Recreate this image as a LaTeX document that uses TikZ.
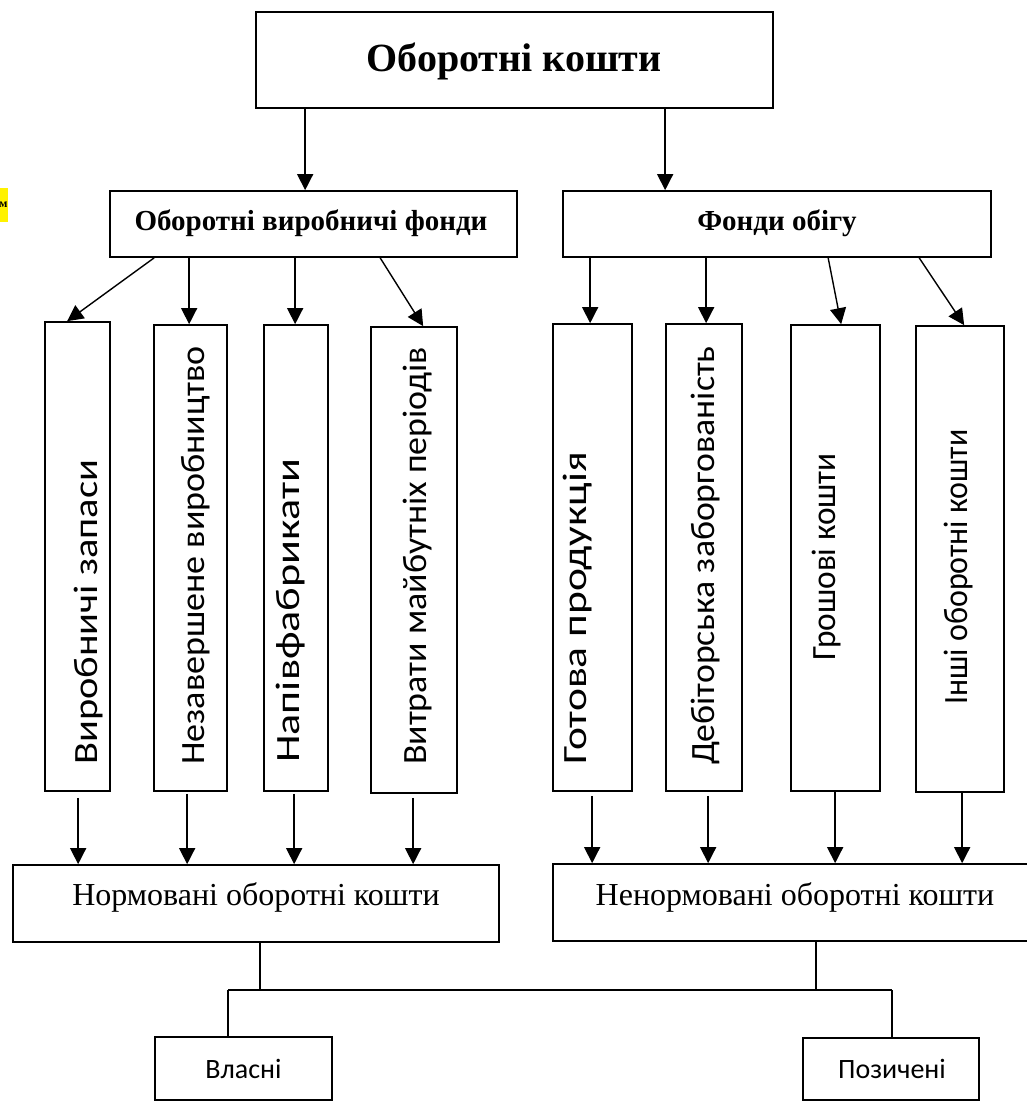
\documentclass[tikz,border=0pt]{standalone}
\usepackage{fontspec}
\usepackage{graphicx}
\setmainfont{Liberation Serif}
\newfontfamily\carl{Carlito}
\usetikzlibrary{arrows.meta}
\newcommand{\strt}[2]{\scalebox{#1}[1]{#2}}
\begin{document}
\begin{tikzpicture}[x=1pt,y=-1pt,
  box/.style={draw, line width=1.7pt, rectangle, inner sep=0pt},
  arr/.style={line width=1.4pt, -{Triangle[length=16pt,width=16pt]}},
  ln/.style={line width=1.5pt},
  ttl/.style={font=\fontsize{40}{48}\selectfont\bfseries, anchor=base, inner sep=0pt},
  sub/.style={font=\fontsize{29}{34}\selectfont\bfseries, anchor=base, inner sep=0pt},
  reg/.style={font=\fontsize{32}{38}\selectfont, anchor=base, inner sep=0pt},
  sml/.style={font=\fontsize{28}{34}\carl, anchor=base, inner sep=0pt},
  vtext/.style={font=\fontsize{34}{40}\carl, rotate=90, inner sep=0pt}
]
\useasboundingbox (0,0) rectangle (1027,1102);
\fill[white] (0,0) rectangle (1027,1102);

% yellow fragment
\node[fill=yellow, anchor=east, inner xsep=0.3pt, minimum height=34pt,
      font=\fontsize{12}{14}\selectfont\bfseries] (ym) at (8,205) {м};

% top
\node[box, minimum width=517pt, minimum height=96pt] (top) at (514.5,60) {};
\node[ttl] (topt) at (514,72) {Оборотні кошти};

\node[box, minimum width=407pt, minimum height=66pt] (ovf) at (313.5,224) {};
\node[sub] (ovft) at (311,230) {Оборотні виробничі фонди};
\node[box, minimum width=428pt, minimum height=66pt] (fo) at (777,224) {};
\node[sub] (fot) at (777,230) {Фонди обігу};

\draw[arr] ([xshift=50pt]top.south west) -- ([xshift=50pt]top.south west |- ovf.north);
\draw[arr] ([xshift=410pt]top.south west) -- ([xshift=410pt]top.south west |- fo.north);

% vertical boxes
\node[box, minimum width=65pt, minimum height=469pt] (b1) at (77.5,556.5) {};
\node[box, minimum width=73pt, minimum height=466pt] (b2) at (190.5,558) {};
\node[box, minimum width=64pt, minimum height=466pt] (b3) at (296,558) {};
\node[box, minimum width=86pt, minimum height=466pt] (b4) at (414,560) {};
\node[box, minimum width=79pt, minimum height=467pt] (b5) at (592.5,557.5) {};
\node[box, minimum width=76pt, minimum height=467pt] (b6) at (704,557.5) {};
\node[box, minimum width=89pt, minimum height=466pt] (b7) at (835.5,558) {};
\node[box, minimum width=88pt, minimum height=466pt] (b8) at (960,559) {};

\node[vtext, anchor=west] (t1) at (89,765) {\strt{1.19}{Виробничі запаси}};
\node[vtext, anchor=west] (t2) at (196,765) {\strt{1.06}{Незавершене виробництво}};
\node[vtext, anchor=west] (t3) at (291,763) {\strt{1.3}{Напівфабрикати}};
\node[vtext, anchor=west] (t4) at (418,765) {\strt{1.055}{Витрати майбутніх періодів}};
\node[vtext, anchor=west] (t5) at (578,765) {\strt{1.28}{Готова продукція}};
\node[vtext, anchor=west] (t6) at (706,765) {\strt{1.05}{Дебіторська заборгованість}};
\node[vtext] (t7) at (827,557) {\strt{0.98}{Грошові кошти}};
\node[vtext] (t8) at (959,567) {\strt{0.94}{Інші оборотні кошти}};

% arrows from ovf
\draw[arr] ([xshift=45pt]ovf.south west) -- ([xshift=23pt]b1.north west);
\draw[arr] ([xshift=80pt]ovf.south west) -- ([xshift=80pt]ovf.south west |- b2.north);
\draw[arr] ([xshift=186pt]ovf.south west) -- ([xshift=186pt]ovf.south west |- b3.north);
\draw[arr] ([xshift=271pt]ovf.south west) -- ([xshift=53pt]b4.north west);
% arrows from fo
\draw[arr] ([xshift=28pt]fo.south west) -- ([xshift=28pt]fo.south west |- b5.north);
\draw[arr] ([xshift=144pt]fo.south west) -- ([xshift=144pt]fo.south west |- b6.north);
\draw[arr] ([xshift=266pt]fo.south west) -- ([xshift=51pt]b7.north west);
\draw[arr] ([xshift=357pt]fo.south west) -- ([xshift=49pt]b8.north west);

% lower boxes
\node[box, minimum width=486pt, minimum height=77pt] (norm) at (256,903.5) {};
\node[reg] (normt) at (256,905) {Нормовані оборотні кошти};
\node[box, minimum width=479pt, minimum height=77pt] (nnorm) at (792.5,902.5) {};
\node[reg] (nnormt) at (795,905) {Ненормовані оборотні кошти};

% arrows to norm
\draw[arr] ([xshift=34pt,yshift=-6pt]b1.south west) -- ([xshift=34pt]b1.south west |- norm.north);
\draw[arr] ([xshift=34pt,yshift=-2pt]b2.south west) -- ([xshift=34pt]b2.south west |- norm.north);
\draw[arr] ([xshift=31pt,yshift=-2pt]b3.south west) -- ([xshift=31pt]b3.south west |- norm.north);
\draw[arr] ([xshift=43pt,yshift=-4pt]b4.south west) -- ([xshift=43pt]b4.south west |- norm.north);
\draw[arr] ([xshift=40pt,yshift=-4pt]b5.south west) -- ([xshift=40pt]b5.south west |- nnorm.north);
\draw[arr] ([xshift=43pt,yshift=-4pt]b6.south west) -- ([xshift=43pt]b6.south west |- nnorm.north);
\draw[arr] ([xshift=45pt]b7.south west) -- ([xshift=45pt]b7.south west |- nnorm.north);
\draw[arr] ([xshift=47pt]b8.south west) -- ([xshift=47pt]b8.south west |- nnorm.north);

% bottom
\node[box, minimum width=177pt, minimum height=63pt] (vl) at (243.5,1068.5) {};
\node[sml] (vlt) at (243.5,1078) {Власні};
\node[box, minimum width=176pt, minimum height=62pt] (pz) at (891,1069) {};
\node[sml] (pzt) at (892,1078) {Позичені};

\coordinate (busL) at (228,990);
\coordinate (busR) at (892,990);
\draw[ln] (busL) -- (busR);
\draw[ln] (busL) -- (busL |- vl.north);
\draw[ln] (busR) -- (busR |- pz.north);
\draw[ln] ([xshift=248pt]norm.south west) -- ([xshift=248pt]norm.south west |- busL);
\draw[ln] ([xshift=264pt]nnorm.south west) -- ([xshift=264pt]nnorm.south west |- busL);
\end{tikzpicture}
\end{document}
